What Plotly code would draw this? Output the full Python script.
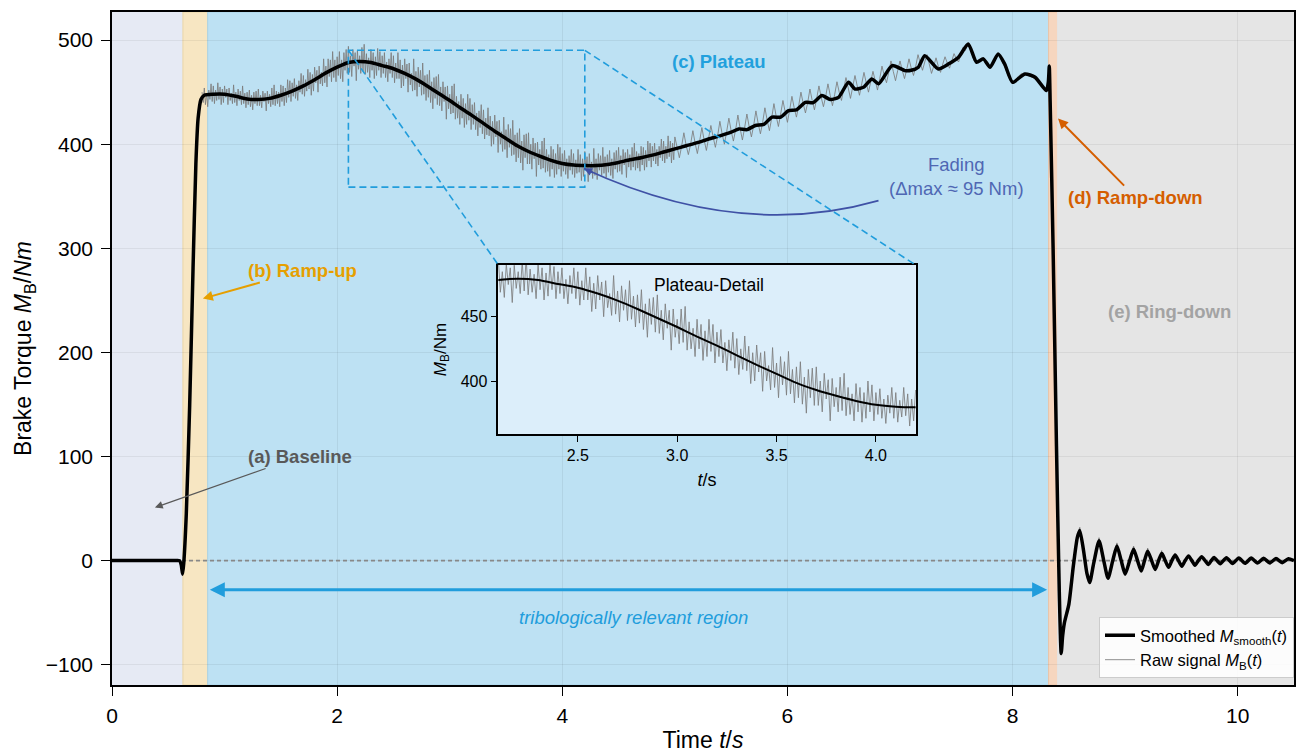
import plotly.graph_objects as go

# ---------------- axes ----------------
X_RANGE = [0, 10.5]
Y_RANGE = [-119.5, 527]
X_TICKS = [0, 2, 4, 6, 8, 10]
Y_TICKS = [-100, 0, 100, 200, 300, 400, 500]

# ---------------- phases ----------------
PHASE_EDGES = [0.0, 0.63, 0.85, 8.32, 8.40, 10.5]
PHASE_FILLS = ["#e6eaf4", "#f7e6c2", "#bde1f3", "#f6d6bf", "#e5e5e5"]
PHASE_LINES = ["#e6eaf4", "#e9d6a8", "#a9d2e6", "#ebc4a8", "#e5e5e5"]

# ---------------- smoothed signal (s, Nm) ----------------
SMOOTH_T = [0.00, 0.55, 0.60, 0.615, 0.627, 0.637, 0.66, 0.69, 0.72, 0.745, 0.765, 0.79, 0.82,
            0.90, 1.00, 1.10, 1.20, 1.30, 1.40, 1.50, 1.60, 1.70, 1.80, 1.90, 2.00, 2.10, 2.20,
            2.30, 2.40, 2.50, 2.60, 2.70, 2.80, 2.90, 3.00, 3.10, 3.20, 3.30, 3.40, 3.50, 3.60,
            3.70, 3.80, 3.90, 4.00, 4.10, 4.20, 4.30, 4.40, 4.50, 4.60, 4.70, 4.80, 4.90, 5.00,
            5.10, 5.20, 5.30, 5.40, 5.50,
            5.567, 5.64, 5.715, 5.79, 5.863, 5.94, 6.01, 6.08, 6.159, 6.23,
            6.306, 6.38, 6.454, 6.543, 6.60, 6.68, 6.75, 6.81, 6.93, 7.045,
            7.10, 7.163, 7.22, 7.34, 7.43, 7.52, 7.606, 7.68, 7.74, 7.80,
            7.872, 7.93, 8.00, 8.11, 8.20, 8.30,
            8.318, 8.326, 8.334, 8.36, 8.39, 8.415, 8.432, 8.445, 8.46, 8.50,
            8.54, 8.575, 8.597, 8.63, 8.66, 8.685, 8.72, 8.768, 8.81, 8.848,
            8.89, 8.927, 8.965, 9.00, 9.04, 9.075, 9.11, 9.143, 9.172, 9.20,
            9.235, 9.267, 9.297, 9.326, 9.356, 9.386, 9.415, 9.444, 9.474, 9.504,
            9.533, 9.563, 9.592, 9.62, 9.65, 9.68, 9.71, 9.74, 9.765, 9.79,
            9.845, 9.90, 9.955, 10.01, 10.065, 10.12, 10.175, 10.23, 10.285, 10.34,
            10.395, 10.45, 10.50]
SMOOTH_V = [0, 0, 0, -4, -13, -3, 45, 149, 281, 381, 425, 443, 447,
            448, 448, 446, 443.5, 443, 444, 447, 451, 456, 462, 468.5, 474, 478.5, 479.5,
            478.5, 475.5, 472.5, 468, 462.5, 456, 449, 442, 434.5, 427.5, 420, 412.5, 405.5, 398.5,
            393, 388.5, 384.5, 381.5, 380, 379.5, 379.5, 380.5, 382.5, 385, 387, 389.5, 392.5, 395.5,
            398.5, 401.5, 405, 408, 411.5,
            414.7, 414, 418, 419, 426, 426, 432.3, 433, 440.2, 440,
            446.7, 443, 445, 459.5, 453, 455, 462.7, 458, 475.5, 470.7,
            471, 474, 485, 472.3, 477, 483.5, 496.3, 478.7, 482, 474,
            486.7, 477, 459.5, 467.5, 464.3, 451.5,
            460, 475, 440, 300, 110, -30, -89, -72, -60, -42,
            -5, 22, 29, 10, -12, -21, -3, 19, 0, -17,
            0, 14, 0, -13, 0, 11, 0, -10, 0, 9,
            0, -8.5, 0, 7, 0, -6.5, 0, 5.5, 0, -5.5,
            0, 4.5, 0, -4.5, 0, 3.8, 0, -3.8, 0, 3,
            -3, 2.8, -2.8, 2.6, -2.6, 2.4, -2.4, 2.2, -2.2, 2,
            -2, 1.8, 0]

# ---------------- raw signal ----------------
# part A: sampled every 0.01 s from 0.80 s (dense noisy plateau)
RAW_A_T0 = 0.80
RAW_A_DT = 0.01
RAW_A_V = [
    450, 440, 454, 438, 449, 436, 452, 443, 458, 441,   # 0.80
    456, 439, 452, 442, 459, 443, 455, 438, 453, 440,   # 0.90
    456, 445, 453, 438, 454, 442, 449, 439, 457, 440,   # 1.00
    450, 437, 453, 442, 451, 438, 456, 439, 449, 435,   # 1.10
    450, 438, 452, 436, 447, 433, 450, 439, 451, 437,   # 1.20
    453, 437, 447, 435, 451, 441, 449, 432, 451, 439,   # 1.30
    448, 436, 454, 438, 457, 437, 451, 439, 450, 436,   # 1.40
    457, 441, 456, 437, 454, 440, 462, 445, 461, 441,   # 1.50
    459, 446, 463, 444, 457, 442, 461, 450, 468, 448,   # 1.60
    466, 446, 462, 451, 472, 453, 469, 447, 467, 451,   # 1.70
    474, 459, 471, 450, 475, 458, 469, 456, 482, 459,   # 1.80
    475, 455, 482, 465, 481, 460, 489, 464, 481, 460,   # 1.90
    484, 466, 489, 463, 481, 460, 488, 471, 491, 468,   # 2.00
    494, 469, 485, 465, 491, 475, 488, 461, 490, 472,   # 2.10
    485, 468, 493, 470, 496, 467, 487, 469, 483, 464,   # 2.20
    491, 471, 488, 463, 484, 466, 492, 471, 489, 464,   # 2.30
    485, 468, 488, 464, 479, 460, 482, 468, 488, 464,   # 2.40
    485, 459, 478, 463, 488, 463, 481, 454, 476, 456,   # 2.50
    482, 463, 477, 450, 478, 457, 468, 451, 482, 452,   # 2.60
    470, 446, 474, 455, 471, 447, 478, 448, 466, 442,   # 2.70
    467, 445, 471, 440, 460, 434, 464, 444, 465, 438,   # 2.80
    467, 437, 455, 432, 460, 441, 455, 424, 456, 434,   # 2.90
    448, 429, 456, 430, 458, 424, 446, 425, 441, 419,   # 3.00
    448, 425, 444, 416, 439, 419, 448, 423, 444, 414,   # 3.10
    438, 419, 440, 414, 430, 408, 432, 416, 438, 410,   # 3.20
    433, 405, 425, 409, 435, 408, 427, 398, 422, 400,   # 3.30
    428, 407, 422, 392, 423, 400, 412, 393, 426, 395,   # 3.40
    414, 387, 419, 397, 415, 389, 423, 390, 409, 383,   # 3.50
    411, 387, 415, 382, 403, 375, 409, 387, 410, 381,   # 3.60
    411, 381, 400, 376, 406, 386, 401, 369, 402, 380,   # 3.70
    395, 376, 403, 377, 406, 373, 395, 374, 390, 369,   # 3.80
    398, 376, 395, 368, 391, 371, 400, 376, 397, 369,   # 3.90
    391, 374, 394, 371, 386, 367, 389, 375, 395, 371,   # 4.00
    391, 368, 385, 372, 395, 373, 390, 365, 386, 369,   # 4.10
    393, 375, 388, 364, 391, 372, 383, 367, 396, 370,   # 4.20
    386, 366, 391, 375, 389, 370, 397, 372, 388, 368,   # 4.30
    390, 373, 394, 370, 386, 367, 392, 376, 394, 373,   # 4.40
    397, 374, 389, 371, 395, 380, 392, 368, 395, 378,   # 4.50
    390, 375, 397, 378, 401, 375, 393, 377, 391, 374,   # 4.60
    398, 380, 397, 375, 394, 378, 403, 384, 401, 378,   # 4.70
    398, 384, 401, 381, 395, 379, 398, 387, 405, 384,   # 4.80
    403, 382, 398, 386, 408, 388, 403, 382, 401, 385,   # 4.90
]
# part B: sampled every 0.02 s from 5.00 s (periodic ripple)
RAW_B_T0 = 5.00
RAW_B_DT = 0.02
RAW_B_V = [
    407, 397, 387, 398, 411,   # 5.00
    399, 390, 400, 413, 401,   # 5.10
    391, 403, 416, 404, 394,   # 5.20
    406, 418, 407, 397, 408,   # 5.30
    422, 410, 400, 412, 425,   # 5.40
    413, 403, 414, 428, 415,   # 5.50
    404, 416, 429, 417, 407,   # 5.60
    418, 432, 420, 410, 421,   # 5.70
    435, 423, 413, 425, 439,   # 5.80
    427, 417, 429, 442, 431,   # 5.90
    421, 433, 446, 435, 426,   # 6.00
    437, 450, 439, 430, 440,   # 6.10
    453, 442, 433, 444, 456,   # 6.20
    445, 436, 446, 458, 447,   # 6.30
    437, 448, 460, 450, 442,   # 6.40
    453, 464, 454, 444, 455,   # 6.50
    466, 456, 447, 458, 469,   # 6.60
    459, 450, 460, 470, 461,   # 6.70
    452, 463, 475, 466, 459,   # 6.80
    469, 480, 470, 461, 471,   # 6.90
    480, 471, 463, 472, 482,   # 7.00
    473, 466, 475, 486, 478,   # 7.10
    471, 479, 486, 477, 468,   # 7.20
    475, 483, 475, 469, 477,   # 7.30
    484, 478, 473, 480, 487,   # 7.40
    482, 479, 486, 493, 490,   # 7.50
    495, 493, 486, 480, 479,   # 7.60
    480, 481, 482, 478, 475,   # 7.70
    474, 477, 482, 486, 485,   # 7.80
    481, 477, 472, 466, 461,   # 7.90
    460, 461, 464, 466, 468,   # 8.00
    467, 467, 466, 465, 464,   # 8.10
    463, 461, 458, 455, 453,   # 8.20
    451,                       # 8.30
]
# part C: ramp-down / ring-down samples
RAW_RING_T = [8.318, 8.326, 8.334, 8.36, 8.39, 8.415, 8.432, 8.445, 8.46, 8.50,
              8.54, 8.575, 8.597, 8.63, 8.66, 8.685, 8.72, 8.768, 8.81, 8.848,
              8.89, 8.927, 8.965, 9.00, 9.04, 9.075, 9.11, 9.143, 9.172, 9.20,
              9.235, 9.267, 9.297, 9.326]
RAW_RING_V = [461, 477, 440, 300, 110, -30, -91, -72, -60, -42,
              -5, 24, 32, 10, -12, -22, -3, 22, 0, -18,
              0, 17, 0, -14, 0, 14, 0, -11, 0, 12,
              0, -9, 0, 10]

# ---------------- inset ----------------
INSET_X_RANGE = [2.1, 4.2]
INSET_Y_RANGE = [358.8, 490.2]
INSET_X_TICKS = [2.5, 3.0, 3.5, 4.0]
INSET_Y_TICKS = [400, 450]
INSET_DOM_X = [0.32686, 0.67990]
INSET_DOM_Y = [0.37296, 0.62407]

assert len(SMOOTH_T) == len(SMOOTH_V)
assert len(RAW_RING_T) == len(RAW_RING_V)

raw_t = ([round(RAW_A_T0 + i * RAW_A_DT, 3) for i in range(len(RAW_A_V))]
         + [round(RAW_B_T0 + i * RAW_B_DT, 3) for i in range(len(RAW_B_V))]
         + RAW_RING_T)
raw_v = RAW_A_V + RAW_B_V + RAW_RING_V

BLUE = "#219ddc"
FONT = "Liberation Sans, Arial, Helvetica, sans-serif"
RAW_COLOR = "rgba(125,125,125,0.85)"

fig = go.Figure()

# main traces
fig.add_trace(go.Scatter(x=raw_t, y=raw_v, mode="lines", name="Raw signal <i>M</i><sub>B</sub>(<i>t</i>)",
                         line=dict(color=RAW_COLOR, width=1), legendrank=2, hoverinfo="skip"))
fig.add_trace(go.Scatter(x=SMOOTH_T, y=SMOOTH_V, mode="lines",
                         name="Smoothed <i>M</i><sub>smooth</sub>(<i>t</i>)",
                         line=dict(color="black", width=3.5, shape="spline", smoothing=0.6),
                         legendrank=1, hoverinfo="skip"))

# inset traces
fig.add_trace(go.Scatter(
    x=[INSET_X_RANGE[0], INSET_X_RANGE[1], INSET_X_RANGE[1], INSET_X_RANGE[0], INSET_X_RANGE[0]],
    y=[INSET_Y_RANGE[0], INSET_Y_RANGE[0], INSET_Y_RANGE[1], INSET_Y_RANGE[1], INSET_Y_RANGE[0]],
    mode="lines", fill="toself", fillcolor="#dceefa", line=dict(width=0),
    xaxis="x2", yaxis="y2", showlegend=False, hoverinfo="skip"))
fig.add_trace(go.Scatter(x=raw_t, y=raw_v, mode="lines", line=dict(color=RAW_COLOR, width=1),
                         xaxis="x2", yaxis="y2", showlegend=False, hoverinfo="skip"))
fig.add_trace(go.Scatter(x=SMOOTH_T, y=SMOOTH_V, mode="lines",
                         line=dict(color="black", width=2, shape="spline", smoothing=0.6),
                         xaxis="x2", yaxis="y2", showlegend=False, hoverinfo="skip"))

# ---------------- shapes ----------------
shapes = []
for i in range(len(PHASE_FILLS)):
    shapes.append(dict(type="rect", xref="x", yref="y domain", x0=PHASE_EDGES[i], x1=PHASE_EDGES[i + 1],
                       y0=0, y1=1, fillcolor=PHASE_FILLS[i], line=dict(width=1, color=PHASE_LINES[i]),
                       layer="below"))
shapes.append(dict(type="line", xref="x", yref="y", x0=X_RANGE[0], x1=X_RANGE[1], y0=0, y1=0,
                   line=dict(color="#888888", width=1.6, dash="4px,3px"), layer="between"))
# zoom rectangle
shapes.append(dict(type="rect", xref="x", yref="y", x0=INSET_X_RANGE[0], x1=INSET_X_RANGE[1],
                   y0=INSET_Y_RANGE[0], y1=INSET_Y_RANGE[1], line=dict(color=BLUE, width=1.6, dash="7px,4px"),
                   fillcolor="rgba(0,0,0,0)", layer="above"))
# connector lines to inset top corners (inset corners expressed in main data coords)
ysp = Y_RANGE[1] - Y_RANGE[0]
xsp = X_RANGE[1] - X_RANGE[0]
inset_top_y = Y_RANGE[0] + INSET_DOM_Y[1] * ysp
for k in (0, 1):
    shapes.append(dict(type="line", xref="x", yref="y", x0=INSET_X_RANGE[k], y0=INSET_Y_RANGE[1],
                       x1=X_RANGE[0] + INSET_DOM_X[k] * xsp, y1=inset_top_y,
                       line=dict(color=BLUE, width=1.6, dash="7px,4px"), layer="above"))
# curved fading arrow
shapes.append(dict(type="path", xref="x", yref="y", path="M 6.809,345.8 Q 5.567,307.4 4.193,376.6",
                   line=dict(color="#3f51a5", width=1.6), layer="above"))

# ---------------- annotations ----------------
BF = 18.5
anns = [
    dict(x=0.381, y=51, ax=1.667, ay=100, axref="x", ayref="y", text="<b>(a) Baseline</b>",
         font=dict(size=BF, color="#595959"), showarrow=True, arrowhead=2, arrowsize=1.2,
         arrowwidth=1.3, arrowcolor="#595959", standoff=0),
    dict(x=0.807, y=251.7, ax=1.693, ay=278.6, axref="x", ayref="y", text="<b>(b) Ramp-up</b>",
         font=dict(size=BF, color="#e69f00"), showarrow=True, arrowhead=2, arrowsize=1,
         arrowwidth=2, arrowcolor="#e69f00", standoff=0),
    dict(x=5.39, y=479.3, text="<b>(c) Plateau</b>", font=dict(size=BF, color="#22a0dd"), showarrow=False),
    dict(x=8.404, y=424.6, ax=9.096, ay=348.7, axref="x", ayref="y", text="<b>(d) Ramp-down</b>",
         font=dict(size=BF, color="#d55e00"), showarrow=True, arrowhead=2, arrowsize=1,
         arrowwidth=2, arrowcolor="#d55e00", standoff=0),
    dict(x=9.397, y=239.2, text="<b>(e) Ring-down</b>", font=dict(size=BF, color="#a3a3a3"), showarrow=False),
    dict(x=7.50, y=368.9, text="Fading<br>(Δmax ≈ 95 Nm)", font=dict(size=BF, color="#4f67b3"),
         showarrow=False),
    dict(x=4.193, y=376.6, ax=11, ay=5, text=" ", showarrow=True, arrowhead=2, arrowsize=1,
         arrowwidth=1.6, arrowcolor="#3f51a5", standoff=0, font=dict(size=2)),
    dict(x=8.307, y=-28, ax=0.851, ay=-28, axref="x", ayref="y", text=" ", showarrow=True,
         arrowhead=2, arrowsize=1, arrowwidth=3, arrowcolor=BLUE, arrowside="end+start", standoff=0,
         startstandoff=0, font=dict(size=2)),
    dict(x=4.636, y=-54.8, text="<i>tribologically relevant region</i>", font=dict(size=BF, color=BLUE),
         showarrow=False),
    dict(x=0.505, y=0.88, xref="x2 domain", yref="y2 domain", yanchor="middle", text="Plateau-Detail",
         font=dict(size=17.5, color="black"), showarrow=False),
]
for a in anns:
    a.setdefault("xref", "x")
    a.setdefault("yref", "y")

main_axis = dict(ticks="outside", ticklen=9, tickwidth=1.3, tickcolor="black", showline=True,
                 linecolor="black", linewidth=1.5, mirror=True, zeroline=False)
inset_axis = dict(ticks="outside", ticklen=6, tickwidth=1.2, tickcolor="black", showline=True,
                  linecolor="black", linewidth=1.5, mirror=True, zeroline=False)

fig.update_layout(
    width=1296, height=753,
    margin=dict(l=112, r=0, t=12, b=68),
    paper_bgcolor="white", plot_bgcolor="white",
    font=dict(family=FONT, size=20, color="black"),
    showlegend=True,
    xaxis=dict(range=X_RANGE, tickvals=X_TICKS, showgrid=True, gridcolor="rgba(0,0,0,0.06)",
               title=dict(text="Time <i>t</i>/<i>s</i>", font=dict(size=23), standoff=8),
               tickfont=dict(size=21), ticklabelstandoff=2, **main_axis),
    yaxis=dict(range=Y_RANGE, tickvals=Y_TICKS, showgrid=True, gridcolor="rgba(0,0,0,0.06)",
               title=dict(text="Brake Torque <i>M</i><sub>B</sub>/<i>Nm</i>", font=dict(size=23), standoff=8),
               tickfont=dict(size=21), ticklabelstandoff=4, **main_axis),
    xaxis2=dict(domain=INSET_DOM_X, anchor="y2", range=INSET_X_RANGE, tickvals=INSET_X_TICKS,
                tickformat=".1f", showgrid=False, tickfont=dict(size=16),
                title=dict(text="<i>t</i>/s", font=dict(size=18), standoff=10), **inset_axis),
    yaxis2=dict(domain=INSET_DOM_Y, anchor="x2", range=INSET_Y_RANGE, tickvals=INSET_Y_TICKS,
                showgrid=False, tickfont=dict(size=16),
                title=dict(text="<i>M</i><sub>B</sub>/Nm", font=dict(size=17), standoff=10), **inset_axis),
    legend=dict(x=1, xanchor="right", y=0.0104, yanchor="bottom", bgcolor="rgba(255,255,255,0.88)",
                bordercolor="#cccccc", borderwidth=1, font=dict(size=16.5), itemwidth=30,
                tracegroupgap=0),
    shapes=shapes,
    annotations=anns,
)

fig.write_html("out.html")
